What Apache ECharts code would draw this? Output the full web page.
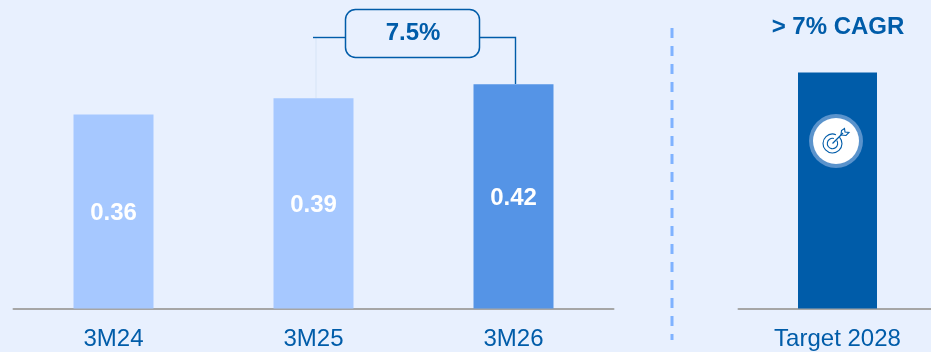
<!DOCTYPE html>
<html>
<head>
<meta charset="utf-8">
<style>html,body{margin:0;padding:0;background:#e8f0fe}#c{width:931px;height:352px}</style>
<script src="https://cdn.jsdelivr.net/npm/echarts@6/dist/echarts.min.js"></script>
</head>
<body>
<div id="c"></div>
<script>
const periods = ['3M24', '3M25', '3M26'];
const periodValues = [0.36, 0.39, 0.416];
const targetLabels = ['Target 2028'];
const targetValues = [0.438];
const growthLabel = '7.5%';
const targetNote = '> 7% CAGR';

const BLUE = '#005ca9', LIGHT = '#a6c8ff', MID = '#5594e6', AXIS = '#a6a6a6';
const FONT = '"Liberation Sans", Arial, sans-serif';
const periodColors = [LIGHT, LIGHT, MID];
const yMin = 0, yMax = 0.5565;

const xAxisBase = {
  type: 'category',
  axisTick: { show: false },
  axisLine: { show: true, lineStyle: { color: AXIS, width: 2 } },
  axisLabel: { color: BLUE, fontFamily: FONT, fontSize: 24, margin: 19, interval: 0 }
};
const yAxisBase = { type: 'value', min: yMin, max: yMax, show: false, splitLine: { show: false } };

const chart = echarts.init(document.getElementById('c'), null, { renderer: 'canvas' });
chart.setOption({
  animation: false,
  backgroundColor: '#e8f0fe',
  grid: [
    { left: 13.5, top: 8.5, width: 600, height: 300, outerBoundsMode: 'none' },
    { left: 738.5, top: 8.5, width: 198, height: 300, outerBoundsMode: 'none' }
  ],
  xAxis: [
    Object.assign({ gridIndex: 0, data: periods }, xAxisBase),
    Object.assign({ gridIndex: 1, data: targetLabels }, xAxisBase)
  ],
  yAxis: [
    Object.assign({ gridIndex: 0 }, yAxisBase),
    Object.assign({ gridIndex: 1 }, yAxisBase)
  ],
  series: [
    {
      type: 'bar', xAxisIndex: 0, yAxisIndex: 0, barWidth: 80, silent: true,
      data: periodValues.map((v, i) => ({ value: v, itemStyle: { color: periodColors[i] } })),
      label: {
        show: true, position: 'inside', offset: [0, 2], color: '#fff', fontFamily: FONT, fontSize: 24, fontWeight: 'bold',
        formatter: p => p.value.toFixed(2)
      }
    },
    {
      type: 'bar', xAxisIndex: 1, yAxisIndex: 1, barWidth: 79, silent: true,
      data: targetValues, itemStyle: { color: BLUE }
    }
  ],
  graphic: [
    { type: 'line', shape: { x1: 672, y1: 28, x2: 672, y2: 340 }, style: { stroke: '#7fb2ff', lineWidth: 3, lineDash: [10, 8] } },
    { type: 'line', shape: { x1: 316, y1: 37, x2: 316, y2: 98 }, style: { stroke: '#dde8f8', lineWidth: 1.5 } },
    { type: 'polyline', shape: { points: [[313, 37.5], [345, 37.5]] }, style: { stroke: BLUE, lineWidth: 1.4, fill: null } },
    { type: 'polyline', shape: { points: [[479, 37.5], [515.5, 37.5], [515.5, 84]] }, style: { stroke: BLUE, lineWidth: 1.4, fill: null } },
    { type: 'rect', shape: { x: 345.5, y: 9.5, width: 134, height: 48, r: 10 }, style: { fill: '#e8f0fe', stroke: BLUE, lineWidth: 1.5 } },
    { type: 'text', x: 413, y: 33, style: { text: growthLabel, fill: BLUE, font: 'bold 24px ' + FONT, textAlign: 'center', textVerticalAlign: 'middle' } },
    { type: 'text', x: 838, y: 27, style: { text: targetNote, fill: BLUE, font: 'bold 24px ' + FONT, textAlign: 'center', textVerticalAlign: 'middle' } },
    { type: 'circle', shape: { cx: 836, cy: 141, r: 27 }, style: { fill: '#5a93cc' }, z: 10 },
    { type: 'circle', shape: { cx: 836, cy: 141, r: 23 }, style: { fill: '#fff' }, z: 11 },
    { type: 'arc', shape: { cx: 832.5, cy: 143.5, r: 9.5, startAngle: -0.75, endAngle: -1.2, clockwise: true }, style: { stroke: BLUE, lineWidth: 1.1, fill: null }, z: 12 },
    { type: 'arc', shape: { cx: 832.5, cy: 143.5, r: 5.2, startAngle: -0.6, endAngle: -1.3, clockwise: true }, style: { stroke: BLUE, lineWidth: 1.1, fill: null }, z: 12 },
    { type: 'polyline', shape: { points: [[832.5, 143.5], [843, 133]] }, style: { stroke: BLUE, lineWidth: 1.2, fill: null }, z: 12 },
    { type: 'polyline', shape: { points: [[841, 135], [841.5, 130.5], [844.5, 128.5], [845, 132], [849, 132.5], [846, 135.5], [841, 135]] }, style: { stroke: BLUE, lineWidth: 1.1, fill: null }, z: 12 }
  ]
});
</script>
</body>
</html>
